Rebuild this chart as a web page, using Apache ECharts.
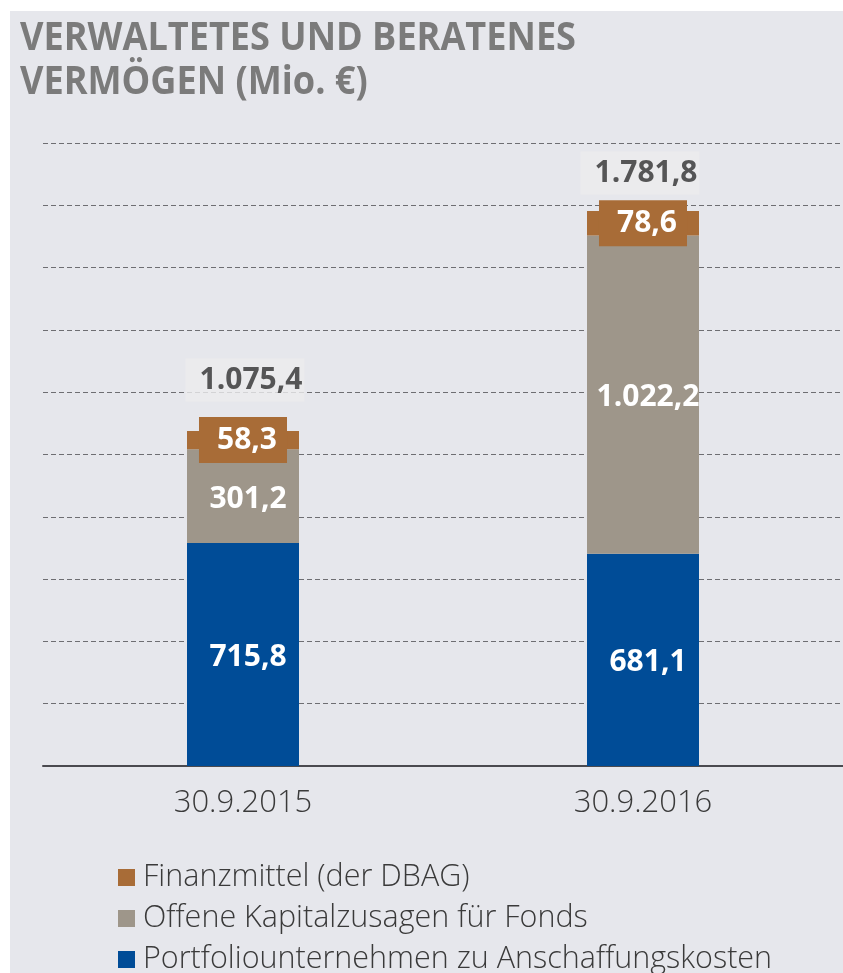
<!DOCTYPE html>
<html>
<head>
<meta charset="utf-8">
<script src="https://cdn.jsdelivr.net/npm/echarts@6/dist/echarts.min.js"></script>
<style>
  html, body { margin: 0; padding: 0; background: #ffffff; }
  #chart { width: 843px; height: 973px; }
</style>
</head>
<body>
<div id="chart"></div>
<script>
let categories = ['30.9.2015', '30.9.2016']
let portfolio = [715.8, 681.1]
let kapitalzusagen = [301.2, 1022.2]
let finanzmittel = [58.3, 78.6]
let totals = [1075.4, 1781.8]
let series_names = ['Portfoliounternehmen zu Anschaffungskosten', 'Offene Kapitalzusagen für Fonds', 'Finanzmittel (der DBAG)']
let title_lines = ['VERWALTETES UND BERATENES', 'VERMÖGEN (Mio. €)']

let chart = echarts.init(document.getElementById('chart'))

function fmt(v) {
    // german number format: 1.075,4
    let parts = v.toFixed(1).split('.')
    let int = parts[0].replace(/\B(?=(\d{3})+(?!\d))/g, '.')
    return int + ',' + parts[1]
}

// title font is a condensed bold face, squeeze Open Sans bold to the same width
let title_font = 'bold 40px "Open Sans"'
let ctx = document.createElement('canvas').getContext('2d')
ctx.font = title_font
let title_scale = 556 / ctx.measureText(title_lines[0]).width

let valueLabel = {
    show: true,
    position: 'inside',
    offset: [5, 3],
    color: '#ffffff',
    fontFamily: 'Open Sans',
    fontWeight: 'bold',
    fontSize: 30,
    formatter: function (p) { return fmt(p.value) }
}

let totalOffsets = [[2, -51], [-3, -38]]

option = {
    backgroundColor: '#ffffff',
    animation: false,
    graphic: [
        {
            type: 'rect',
            left: 10, top: 11,
            shape: { width: 833, height: 962 },
            style: { fill: '#e6e7ec' },
            z: -10
        },
        {
            type: 'text',
            x: 20, y: 17,
            scaleX: title_scale,
            style: {
                text: title_lines.join('\n'),
                fill: '#7b7b7b',
                font: title_font,
                lineHeight: 44
            }
        }
    ],
    legend: {
        orient: 'vertical',
        left: 118,
        top: 862,
        height: 120,
        padding: 0,
        itemWidth: 17,
        itemHeight: 17,
        itemGap: 10,
        icon: 'rect',
        data: [series_names[2], series_names[1], series_names[0]],
        textStyle: { fontFamily: 'Open Sans', fontWeight: 300, fontSize: 30.5, color: '#3a3a3a', padding: [0, 0, 0, 3] }
    },
    grid: { left: 43, right: 0, top: 143, bottom: 207 },
    xAxis: {
        type: 'category',
        data: categories,
        axisLine: { lineStyle: { color: '#4a4a4f', width: 2 } },
        axisTick: { show: false },
        axisLabel: { margin: 22, fontFamily: 'Open Sans', fontWeight: 300, fontSize: 31, color: '#3a3a3a' }
    },
    yAxis: {
        type: 'value',
        min: 0, max: 2000, interval: 200,
        axisLabel: { show: false },
        axisLine: { show: false },
        axisTick: { show: false },
        splitLine: { lineStyle: { color: '#6e6e72', type: [5, 3], width: 1 } }
    },
    series: [
        {
            name: series_names[0],
            type: 'bar',
            stack: 'total',
            barWidth: 112,
            itemStyle: { color: '#004c97' },
            label: valueLabel,
            data: portfolio
        },
        {
            name: series_names[1],
            type: 'bar',
            stack: 'total',
            itemStyle: { color: '#9e968a' },
            label: valueLabel,
            data: kapitalzusagen
        },
        {
            name: series_names[2],
            type: 'bar',
            stack: 'total',
            itemStyle: { color: '#a86c37' },
            label: Object.assign({}, valueLabel, {
                offset: [0, 0],
                backgroundColor: '#a86c37',
                padding: [8, 10, 8, 18],
                lineHeight: 30
            }),
            data: finanzmittel
        },
        {
            name: 'Summe',
            type: 'scatter',
            symbolSize: 0,
            z: 5,
            data: totals.map(function (v, i) {
                return {
                    value: v,
                    label: { offset: totalOffsets[i] }
                }
            }),
            label: {
                show: true,
                position: 'inside',
                color: '#2f2f2f',
                fontFamily: 'Open Sans',
                fontWeight: 'bold',
                fontSize: 30,
                lineHeight: 30,
                backgroundColor: '#ececed',
                padding: [7, 2, 6, 14],
                formatter: function (p) { return fmt(p.value) }
            }
        }
    ]
}
chart.setOption(option)
</script>
</body>
</html>
